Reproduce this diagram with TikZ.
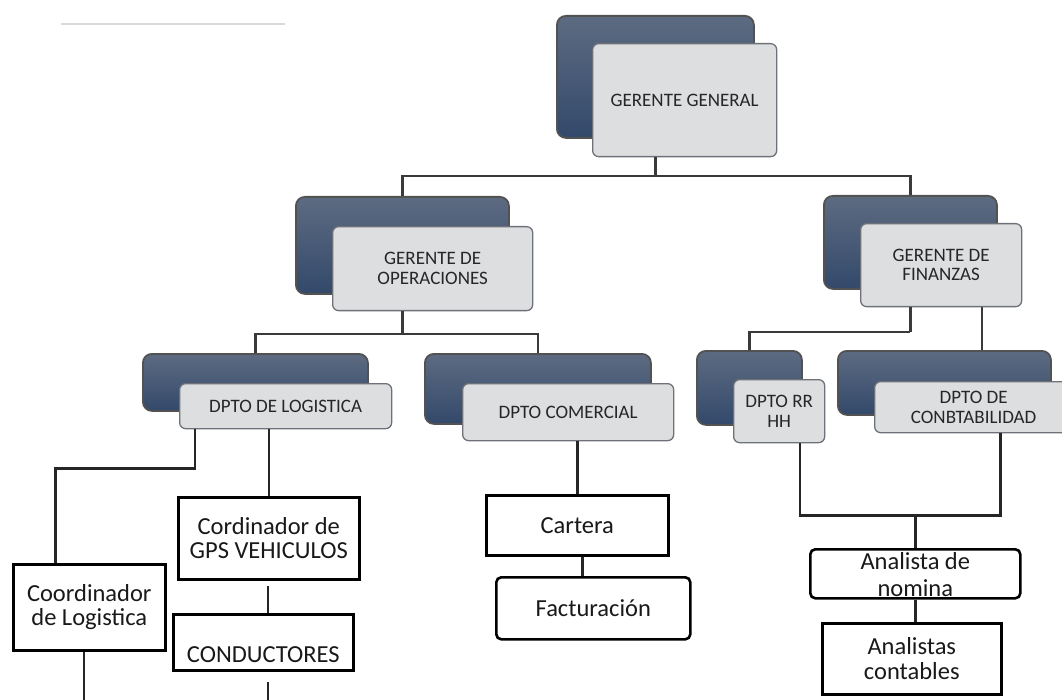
\documentclass[tikz,border=0pt]{standalone}
\usepackage{fontspec}
\setmainfont{Carlito}
\definecolor{dkTop}{HTML}{5D6B81}
\definecolor{dkBot}{HTML}{33496B}
\definecolor{ltFill}{HTML}{DDDEE0}
\definecolor{ltDraw}{HTML}{6E7278}
\definecolor{lnCol}{HTML}{3A3A3A}
\newcommand\gbxfont{\fontsize{19}{19.5}\selectfont}
\newcommand\wbxfont{\fontsize{24.5}{24.5}\selectfont}
\newcommand\wbxfontb{\fontsize{24.5}{26.5}\selectfont}
\tikzset{
  dkbox/.style={draw=black!68, line width=1.8pt, rounded corners=9pt,
    top color=dkTop, bottom color=dkBot, inner sep=0pt, anchor=north west},
  ltbox/.style={draw=ltDraw, line width=1.3pt, rounded corners=6pt, fill=ltFill,
    inner sep=0pt, anchor=north west, align=center, font=\gbxfont, text=black!85},
  wbox/.style={draw=black, line width=2.6pt, fill=white, inner sep=0pt,
    anchor=north west, align=center, font=\wbxfont, text=black!90},
  wround/.style={wbox, rounded corners=5pt},
  conn/.style={draw=lnCol, line width=2.2pt},
  wline/.style={draw=black!85, line width=2.4pt}
}
\begin{document}
\begin{tikzpicture}[x=1pt, y=-1pt]
\fill[white] (0,0) rectangle (1062,700);
\useasboundingbox (0,0) rectangle (1062,700);

% faint line at top left
\draw[black!15, line width=1.2pt] (61,24) -- (285,24);

% level 0
\node[dkbox, minimum width=197pt, minimum height=122pt] (ggd) at (556,15) {};
\node[ltbox, minimum width=184pt, minimum height=113pt] (ggl) at (592,43) {GERENTE GENERAL};

% level 1
\node[dkbox, minimum width=213pt, minimum height=97pt] (god) at (295,196) {};
\node[ltbox, minimum width=200pt, minimum height=84pt] (gol) at (332,226) {GERENTE DE\\OPERACIONES};
\node[dkbox, minimum width=173pt, minimum height=93pt] (gfd) at (823,195) {};
\node[ltbox, minimum width=161pt, minimum height=83pt] (gfl) at (860,223) {GERENTE DE\\FINANZAS};

% level 2
\node[dkbox, minimum width=225pt, minimum height=57pt] (logd) at (142,353) {};
\node[ltbox, minimum width=212pt, minimum height=45pt] (logl) at (179,383) {DPTO DE LOGISTICA};
\node[dkbox, minimum width=226pt, minimum height=70pt] (comd) at (424,353) {};
\node[ltbox, minimum width=211pt, minimum height=57pt] (coml) at (462,383) {DPTO COMERCIAL};
\node[dkbox, minimum width=105pt, minimum height=74pt] (rrd) at (696,350) {};
\node[ltbox, minimum width=91pt, minimum height=63pt] (rrl) at (733,379) {DPTO RR\\HH};
\node[dkbox, minimum width=213pt, minimum height=64pt] (contd) at (837,350) {};
\node[ltbox, minimum width=198pt, minimum height=51pt] (contl) at (874,381) {DPTO DE\\CONBTABILIDAD};

% level 3 (white boxes)
\node[wbox, minimum width=181pt, minimum height=82pt] (gps) at (177,496) {Cordinador de\\GPS VEHICULOS};
\node[wbox, minimum width=180pt, minimum height=56pt,
      label={[font=\wbxfont, text=black!90, yshift=-12pt]center:CONDUCTORES}] (cond) at (172,613) {};
\node[wbox, minimum width=152pt, minimum height=86pt] (cl) at (12,563) {Coordinador\\de Logistica};
\node[wbox, minimum width=182pt, minimum height=60pt] (cart) at (485,494) {Cartera};
\node[wround, minimum width=194pt, minimum height=62pt] (fact) at (495,576) {Facturación};
\node[wround, minimum width=210pt, minimum height=49pt,
      label={[font=\wbxfontb, text=black!90, align=center, yshift=-1pt]center:Analista de\\nomina}] (nom) at (809,548) {};
\node[wbox, minimum width=179pt, minimum height=71pt] (ana) at (821,622) {Analistas\\contables};

% free ends at the bottom edge
\coordinate (cle) at (84,700);
\coordinate (cde) at (268,700);

% connectors, upper part
\draw[conn] (ggl.south -| ggd.south) -- ++(0,19) coordinate (gj);
\draw[conn] (god.north) |- (gj) -| (gfd.north);
\draw[conn] (gol.south -| god.south) -- ++(0,23) coordinate (oj);
\draw[conn] (logd.north) |- (oj) -| (comd.north);
\draw[conn] (gfl.south -| gfd.south) -- ++(0,25) coordinate (fj);
\draw[conn] (rrd.north) |- (fj);
\draw[conn] ([xshift=40.5pt]gfl.south) -- ([xshift=40.5pt]gfl.south |- contd.north);

% connectors, lower part
\draw[wline] ([xshift=16pt]logl.south west) -- ++(0,39) -| ([xshift=-34pt]cl.north);
\draw[wline] (logl.south -| gps.north) -- (gps.north);
\draw[wline, shorten <=5pt] ([xshift=-1pt]gps.south) -- ([xshift=-1pt]gps.south |- cond.north);
\draw[wline, shorten <=10pt] (cond.south -| cde) -- (cde);
\draw[wline] (cl.south -| cle) -- (cle);
\draw[wline] (coml.south -| cart.north) -- (cart.north);
\draw[wline] ([xshift=5pt]cart.south) -- ([xshift=5pt]cart.south |- fact.north);
\draw[wline] ([xshift=21pt]rrl.south) -- ++(0,72) coordinate (nj) -| ([xshift=27pt]contl.south);
\draw[wline] (nom.north |- nj) -- (nom.north);
\draw[wline] (nom.south) -- (nom.south |- ana.north);
\end{tikzpicture}
\end{document}
